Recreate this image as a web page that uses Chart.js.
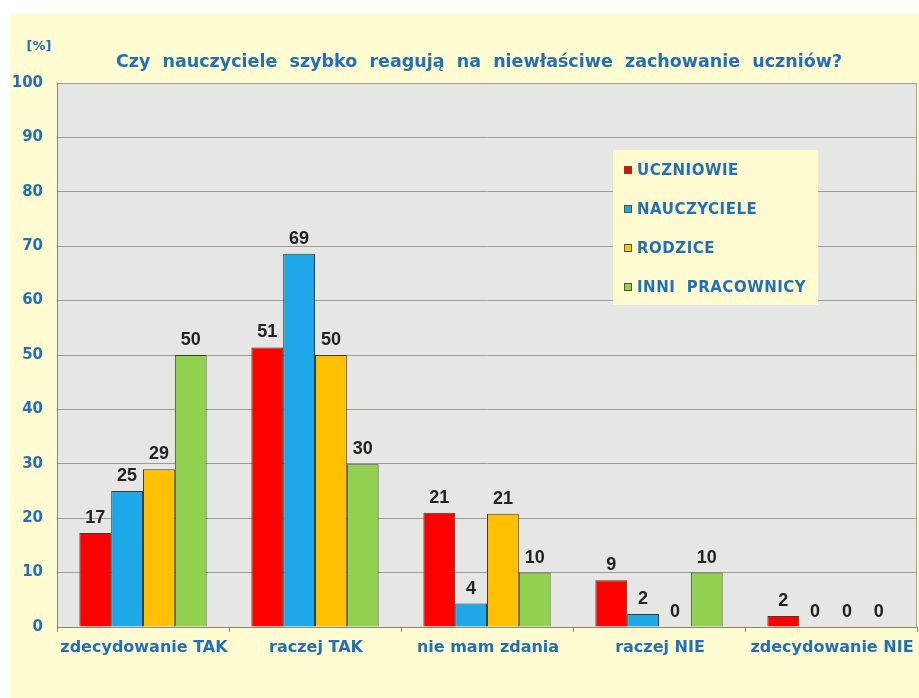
<!DOCTYPE html>
<html>
<head>
<meta charset="utf-8">
<script src="https://cdn.jsdelivr.net/npm/chart.js@4"></script>
<style>
  html, body { margin: 0; padding: 0; background: #ffffff; }
  #wrap { width: 919px; height: 698px; }
</style>
</head>
<body>
<div id="wrap"><canvas id="chart" width="919" height="698"></canvas></div>
<script>
const categories = ["zdecydowanie TAK", "raczej TAK", "nie mam zdania", "raczej NIE", "zdecydowanie NIE"];
const seriesNames = ["UCZNIOWIE", "NAUCZYCIELE", "RODZICE", "INNI  PRACOWNICY"];
const uczniowie = [17.3, 51.4, 21.0, 8.6, 2.0];
const nauczyciele = [25.0, 68.6, 4.3, 2.4, 0];
const rodzice = [29.0, 50.0, 20.8, 0, 0];
const inni = [50.0, 29.9, 10.0, 10.0, 0];
const seriesColors = ["#ff0000", "#1ea8e8", "#ffc000", "#92d050"];

const titleText = "Czy  nauczyciele  szybko  reagują  na  niewłaściwe  zachowanie  uczniów?";
const blue = "#2370b4";
const fontFam = "'DejaVu Sans', 'Liberation Sans', Arial, sans-serif";
const arial = "'Liberation Sans', Arial, sans-serif";

const backdrop = {
  id: "backdrop",
  beforeDraw(chart) {
    const ctx = chart.ctx;
    const a = chart.chartArea;
    ctx.save();
    ctx.fillStyle = "#ffffff";
    ctx.fillRect(0, 0, chart.width, chart.height);
    ctx.fillStyle = "#fffcd2";
    ctx.fillRect(10, 14, chart.width - 10, chart.height - 14);
    ctx.fillStyle = "#e6e6e4";
    ctx.fillRect(a.left, a.top, a.right - a.left, a.bottom - a.top);
    ctx.strokeStyle = "#a6a68a";
    ctx.lineWidth = 1;
    ctx.strokeRect(a.left + 0.5, a.top + 0.5, a.right - a.left - 1, a.bottom - a.top);
    // title and unit
    ctx.fillStyle = blue;
    ctx.font = "bold 17.5px " + fontFam;
    ctx.textAlign = "center";
    ctx.textBaseline = "middle";
    ctx.fillText(titleText, 479, 62);
    ctx.font = "bold 13px " + fontFam;
    ctx.fillText("[%]", 39, 47);
    // category labels under the x axis
    const xs = chart.scales.x;
    ctx.font = "bold 16px " + fontFam;
    categories.forEach((c, i) => {
      ctx.fillText(c, xs.getPixelForValue(i) + 1, 648);
    });
    ctx.restore();
  },
  afterDatasetsDraw(chart) {
    const ctx = chart.ctx;
    ctx.save();
    ctx.font = "bold 18px " + arial;
    ctx.fillStyle = "#222222";
    ctx.textAlign = "center";
    ctx.textBaseline = "alphabetic";
    chart.data.datasets.forEach((ds, i) => {
      chart.getDatasetMeta(i).data.forEach((bar, j) => {
        ctx.fillText(String(Math.round(ds.data[j])), bar.x, bar.y - 10);
      });
    });
    // legend box
    const lx = 613, ly = 150, lw = 205, lh = 155;
    ctx.fillStyle = "#fffbd0";
    ctx.fillRect(lx, ly, lw, lh);
    ctx.font = "bold 15px " + fontFam;
    ctx.letterSpacing = "0.5px";
    ctx.textAlign = "left";
    ctx.textBaseline = "middle";
    chart.data.datasets.forEach((ds, i) => {
      const y = 170 + i * 39;
      ctx.fillStyle = ds.backgroundColor;
      ctx.fillRect(624, y - 4, 8, 8);
      ctx.strokeStyle = "#555533";
      ctx.lineWidth = 1;
      ctx.strokeRect(624.5, y - 3.5, 7, 7);
      ctx.fillStyle = blue;
      ctx.fillText(ds.label, 637, y + 1);
    });
    ctx.restore();
  }
};

const ctx = document.getElementById("chart").getContext("2d");
const seriesData = [uczniowie, nauczyciele, rodzice, inni];

new Chart(ctx, {
  type: "bar",
  data: {
    labels: categories,
    datasets: seriesNames.map((name, i) => ({
      label: name,
      data: seriesData[i],
      backgroundColor: seriesColors[i],
      borderColor: "#3e3e28",
      borderWidth: 1,
      borderSkipped: "bottom",
      barPercentage: 1.0,
      categoryPercentage: 0.74,
    })),
  },
  plugins: [backdrop],
  options: {
    responsive: false,
    animation: false,
    layout: { padding: { top: 83, right: 2, left: 0, bottom: 0 } },
    plugins: {
      legend: { display: false },
      tooltip: { enabled: false },
    },
    scales: {
      y: {
        min: 0,
        max: 100,
        ticks: {
          stepSize: 10,
          color: blue,
          padding: 14,
          font: { family: fontFam, weight: "bold", size: 15 },
        },
        grid: {
          color: "#9c9c94",
          lineWidth: 1,
          drawTicks: false,
        },
        border: { display: true, color: "#8a8a70" },
        afterFit(scale) { scale.width = 57; },
      },
      x: {
        ticks: { display: false },
        grid: {
          offset: true,
          drawOnChartArea: false,
          tickLength: 5,
          color: "#8a8a70",
        },
        border: { display: true, color: "#8a8a70" },
        afterFit(scale) { scale.height = 71; },
      },
    },
  },
});
</script>
</body>
</html>
